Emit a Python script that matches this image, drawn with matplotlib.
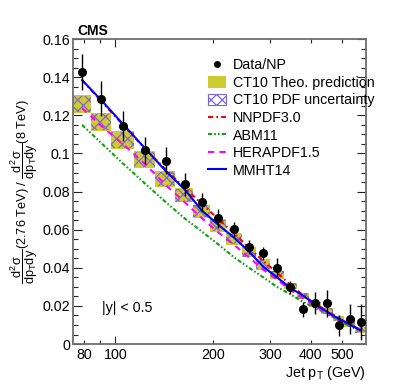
import matplotlib
matplotlib.use("Agg")
import matplotlib.pyplot as plt
from matplotlib.patches import Rectangle, Patch
from matplotlib.lines import Line2D

plt.rcParams['font.family'] = ['Liberation Sans', 'DejaVu Sans']
plt.rcParams['mathtext.fontset'] = 'custom'
plt.rcParams['mathtext.rm'] = 'Liberation Sans'
plt.rcParams['mathtext.it'] = 'Liberation Sans'
plt.rcParams['mathtext.bf'] = 'Liberation Sans:bold'
plt.rcParams['hatch.linewidth'] = 0.9

# ---------------- data ----------------
bin_edges = [74, 84, 97, 114, 133, 153, 174, 196, 220, 245, 272, 300, 330,
             362, 395, 430, 468, 507, 548, 592]
pt_centers = [79, 90.5, 105.5, 123.5, 143, 163.5, 185, 208, 232.5, 258.5, 286,
              315, 346, 378.5, 412.5, 449, 487.5, 527.5, 570]
data_val = [0.1427, 0.1287, 0.1145, 0.1016, 0.0962, 0.0839, 0.0743, 0.0659,
            0.0602, 0.0510, 0.0476, 0.0400, 0.0297, 0.0182, 0.0217, 0.0213,
            0.0100, 0.0131, 0.0117]
data_err = [0.0095, 0.0092, 0.0077, 0.0070, 0.0072, 0.0060, 0.0047, 0.0050,
            0.0038, 0.0035, 0.0035, 0.0050, 0.0033, 0.0040, 0.0057, 0.0070,
            0.0055, 0.0080, 0.0095]
ct10_val = [0.1258, 0.1166, 0.1070, 0.0967, 0.0866, 0.0780, 0.0697, 0.0622,
            0.0551, 0.0483, 0.0417, 0.0362, 0.0304, 0.0252, 0.0207, 0.0173,
            0.0134, 0.0105, 0.0073]
ct10_theo_err = [0.0048, 0.0047, 0.0047, 0.0045, 0.0042, 0.0037, 0.0035, 0.0033,
                 0.0031, 0.0027, 0.0028, 0.0022, 0.0017, 0.0016, 0.0014, 0.0016,
                 0.0014, 0.0015, 0.0016]
ct10_pdf_err = [0.0043, 0.0042, 0.0042, 0.0040, 0.0037, 0.0033, 0.0031, 0.0029,
                0.0027, 0.0024, 0.0024, 0.0019, 0.0015, 0.0014, 0.0012, 0.0014,
                0.0012, 0.0013, 0.0014]
nnpdf_val = [0.1385, 0.1274, 0.1151, 0.1025, 0.0917, 0.0820, 0.0735, 0.0655,
             0.0580, 0.0505, 0.0435, 0.0375, 0.0312, 0.0258, 0.0212, 0.0175,
             0.0136, 0.0105, 0.0074]
abm_val = [0.1150, 0.1055, 0.0948, 0.0842, 0.0745, 0.0660, 0.0590, 0.0522,
           0.0455, 0.0400, 0.0350, 0.0300, 0.0262, 0.0222, 0.0190, 0.0160,
           0.0125, 0.0095, 0.0068]
hera_val = [0.1238, 0.1145, 0.1050, 0.0945, 0.0835, 0.0745, 0.0660, 0.0585,
            0.0520, 0.0455, 0.0390, 0.0338, 0.0285, 0.0240, 0.0198, 0.0165,
            0.0128, 0.0100, 0.0070]
mmht_val = [0.1385, 0.1280, 0.1155, 0.1027, 0.0908, 0.0812, 0.0700, 0.0625,
            0.0558, 0.0485, 0.0405, 0.0350, 0.0295, 0.0255, 0.0208, 0.0170,
            0.0133, 0.0103, 0.0072]

x_major = [100]
x_minor = [80, 90, 200, 300, 400, 500]
x_minor_labels = ['80', '', '200', '300', '400', '500']
y_ticks = [0, 0.02, 0.04, 0.06, 0.08, 0.1, 0.12, 0.14, 0.16]
y_tick_labels = ['0', '0.02', '0.04', '0.06', '0.08', '0.1', '0.12', '0.14', '0.16']

legend_labels = ['Data/NP', 'CT10 Theo. prediction', 'CT10 PDF uncertainty',
                 'NNPDF3.0', 'ABM11', 'HERAPDF1.5', 'MMHT14']

# ---------------- styling ----------------
yellow = '#cccc30'
purple = '#7f66d6'
axis_col = '#6e6e6e'
fs = 10.3

fig = plt.figure(figsize=(4.07, 3.91), dpi=100)
ax = fig.add_axes([0.179, 0.120, 0.720, 0.780])

ax.set_xscale('log')
ax.set_xlim(bin_edges[0], bin_edges[-1])
ax.set_ylim(0, 0.16)

# boxes
for i in range(len(ct10_val)):
    lo, hi = bin_edges[i], bin_edges[i + 1]
    ax.add_patch(Rectangle((lo, ct10_val[i] - ct10_theo_err[i]), hi - lo,
                           2 * ct10_theo_err[i], facecolor=yellow,
                           edgecolor='none', lw=0, zorder=2))
    ax.add_patch(Rectangle((lo, ct10_val[i] - ct10_pdf_err[i]), hi - lo,
                           2 * ct10_pdf_err[i], facecolor='none',
                           edgecolor=purple, hatch='xxx', lw=0, zorder=3))

ls_nnpdf = (0, (2.5, 1.5, 0.8, 1.5))
ls_abm = (0, (2.0, 1.0, 0.8, 1.0, 0.8, 1.0))
ls_hera = (0, (3.0, 2.5))

ax.plot(pt_centers, nnpdf_val, color='#ff0000', lw=1.5, ls=ls_nnpdf, zorder=4)
ax.plot(pt_centers, abm_val, color='#10a010', lw=1.5, ls=ls_abm, zorder=4)
ax.plot(pt_centers, hera_val, color='#ff00ff', lw=1.5, ls=ls_hera, zorder=4)
ax.plot(pt_centers, mmht_val, color='#0000ff', lw=1.5, ls='-', zorder=4)

ax.errorbar(pt_centers, data_val, yerr=data_err, fmt='o', color='black',
            ms=5.5, elinewidth=1.0, capsize=0, zorder=6)

# ticks
ax.set_xticks(x_major, ['100'])
ax.set_xticks(x_minor, x_minor_labels, minor=True)
ax.set_yticks(y_ticks, y_tick_labels)
ax.set_yticks([v / 1000 for v in range(5, 160, 5) if v % 20 != 0], minor=True)
ax.tick_params(axis='both', which='both', direction='in', top=True, right=True,
               colors='black', labelsize=fs, pad=2)
ax.tick_params(axis='x', which='major', length=6, width=0.8, color='#222222', pad=3)
ax.tick_params(axis='x', which='minor', length=3, width=0.8, color='#222222', pad=3)
ax.tick_params(axis='y', which='major', length=6.3, width=0.8, color='#222222')
ax.tick_params(axis='y', which='minor', length=3.4, width=0.8, color='#222222')
for s in ax.spines.values():
    s.set_color(axis_col)
    s.set_linewidth(1.3)

# labels
ax.set_ylabel(r'$\dfrac{d^2\sigma}{dp_T dy}$(2.76 TeV) / $\dfrac{d^2\sigma}{dp_T dy}$(8 TeV)',
              fontsize=9.2, labelpad=2)
ax.text(1.0, -0.094, r'Jet p$_\mathregular{T}$ (GeV)', transform=ax.transAxes,
        ha='right', va='center', fontsize=fs)
ax.text(0.016, 1.027, 'CMS', transform=ax.transAxes, ha='left', va='center',
        fontsize=10, fontweight='bold')
ax.text(0.098, 0.117, '|y| < 0.5', transform=ax.transAxes, ha='left',
        va='center', fontsize=fs)

# legend
handles = [
    Line2D([], [], color='black', marker='o', ls='none', ms=4),
    Patch(facecolor=yellow, edgecolor='none'),
    Patch(facecolor='white', edgecolor=purple, hatch='xxx', lw=0.8),
    Line2D([], [], color='#ff0000', lw=1.5, ls=ls_nnpdf),
    Line2D([], [], color='#10a010', lw=1.5, ls=ls_abm),
    Line2D([], [], color='#ff00ff', lw=1.5, ls=ls_hera),
    Line2D([], [], color='#0000ff', lw=1.5, ls='-'),
]
ax.legend(handles, legend_labels, loc='upper left', bbox_to_anchor=(0.461, 0.937),
          frameon=False, fontsize=fs, borderpad=0, handlelength=1.25,
          handletextpad=0.5, labelspacing=0.25, handleheight=0.85, borderaxespad=0)

fig.savefig('out.png', dpi=100)
